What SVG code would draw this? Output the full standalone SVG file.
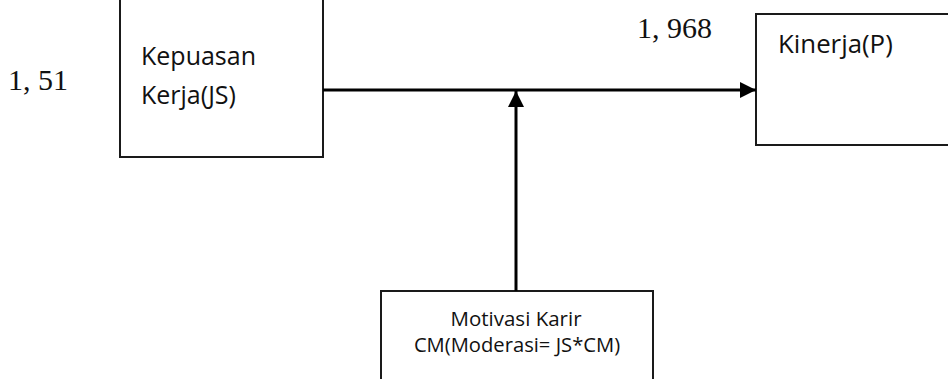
<svg xmlns="http://www.w3.org/2000/svg" width="948" height="379" viewBox="0 0 948 379">
  <style>
    .box { fill: none; stroke: #1a1a1a; stroke-width: 2; }
    .lbl { font-family: "Open Sans", "Liberation Sans", sans-serif; fill: #111; }
    .num { font-family: "Liberation Serif", "Times New Roman", serif; font-size: 30px; fill: #111; }
    .wire { stroke: #000; stroke-width: 3; fill: none; }
  </style>
  <defs>
    <marker id="head" viewBox="0 0 16 16" refX="16" refY="8" markerWidth="16" markerHeight="16" markerUnits="userSpaceOnUse" orient="auto">
      <path d="M0,0 L16,8 L0,16 Z" fill="#000"/>
    </marker>
  </defs>
  <rect width="948" height="379" fill="#fff"/>

  <g id="js">
    <path class="box" d="M120,0 V157 H323 V0"/>
    <text class="lbl" font-size="25" x="141" y="65">Kepuasan</text>
    <text class="lbl" font-size="25" x="141" y="104">Kerja(JS)</text>
  </g>

  <g id="p">
    <path class="box" d="M949,14 H756 V145 H949"/>
    <text class="lbl" font-size="25.8" x="778" y="53">Kinerja(P)</text>
  </g>

  <g id="cm">
    <path class="box" d="M381,380 V291 H653 V380"/>
    <text class="lbl" font-size="20.5" x="516" y="326" text-anchor="middle">Motivasi Karir</text>
    <text class="lbl" font-size="20.2" x="517" y="352" text-anchor="middle">CM(Moderasi= JS*CM)</text>
  </g>

  <g id="coef">
    <text class="num" x="8" y="90">1, 51</text>
    <text class="num" x="637" y="38">1, 968</text>
  </g>

  <g id="connectors">
    <line class="wire" x1="323" y1="90" x2="756" y2="90" marker-end="url(#head)"/>
    <line class="wire" x1="516" y1="291" x2="516" y2="91" marker-end="url(#head)"/>
  </g>
</svg>
